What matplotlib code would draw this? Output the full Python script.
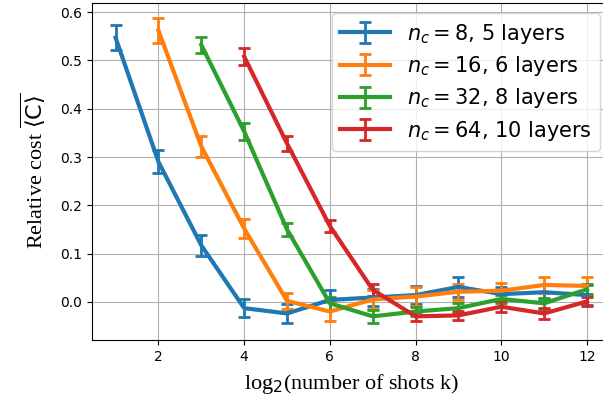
import numpy as np
import matplotlib
matplotlib.use("Agg")
import matplotlib.pyplot as plt

shots = [1, 2, 3, 4, 5, 6, 7, 8, 9, 10, 11, 12]

labels = [r"$n_c = 8$, 5 layers", r"$n_c = 16$, 6 layers",
          r"$n_c = 32$, 8 layers", r"$n_c = 64$, 10 layers"]

# each series starts at a different shot count
start = [1, 2, 3, 4]

cost_8 = [0.547, 0.290, 0.117, -0.013, -0.024, 0.004, 0.009, 0.014, 0.031, 0.016, 0.020, 0.014]
err_8 = [0.026, 0.024, 0.022, 0.019, 0.019, 0.020, 0.018, 0.018, 0.020, 0.015, 0.015, 0.020]

cost_16 = [0.562, 0.322, 0.152, 0.002, -0.020, 0.005, 0.011, 0.021, 0.023, 0.035, 0.033]
err_16 = [0.026, 0.022, 0.019, 0.017, 0.019, 0.020, 0.019, 0.017, 0.017, 0.017, 0.018]

cost_32 = [0.532, 0.353, 0.150, -0.003, -0.030, -0.020, -0.013, 0.006, -0.003, 0.026]
err_32 = [0.017, 0.017, 0.014, 0.013, 0.013, 0.010, 0.010, 0.009, 0.012, 0.010]

cost_64 = [0.508, 0.328, 0.157, 0.025, -0.030, -0.028, -0.010, -0.024, 0.001]
err_64 = [0.017, 0.016, 0.013, 0.012, 0.010, 0.009, 0.011, 0.011, 0.010]

costs = [cost_8, cost_16, cost_32, cost_64]
errs = [err_8, err_16, err_32, err_64]

COLORS = ["#1f77b4", "#ff7f0e", "#2ca02c", "#d62728"]

fig = plt.figure(figsize=(6.03, 4.03), dpi=100)
ax = fig.add_axes([0.1526, 0.1563, 0.86, 0.8363])

for i in range(4):
    x = shots[start[i] - 1:]
    ax.errorbar(x, costs[i], errs[i], color=COLORS[i], lw=3, elinewidth=2,
                capsize=4, capthick=2, label=labels[i])

ax.set_xlim(0.45, 12.55)
ax.set_ylim(-0.079, 0.619)
ax.set_xticks([2, 4, 6, 8, 10, 12])
ax.grid()

ax.set_xlabel(r"log$_\mathsf{2}$(number of shots k)", fontname="Liberation Serif",
              fontsize=16, labelpad=6)
ax.set_ylabel(r"Relative cost $\overline{\langle \mathsf{C}\rangle}$", fontname="Liberation Serif",
              fontsize=16, labelpad=9)
ax.legend(loc="upper right", fontsize=15, handlelength=2.4, labelspacing=0.4)

fig.savefig("out.png", dpi=100)
